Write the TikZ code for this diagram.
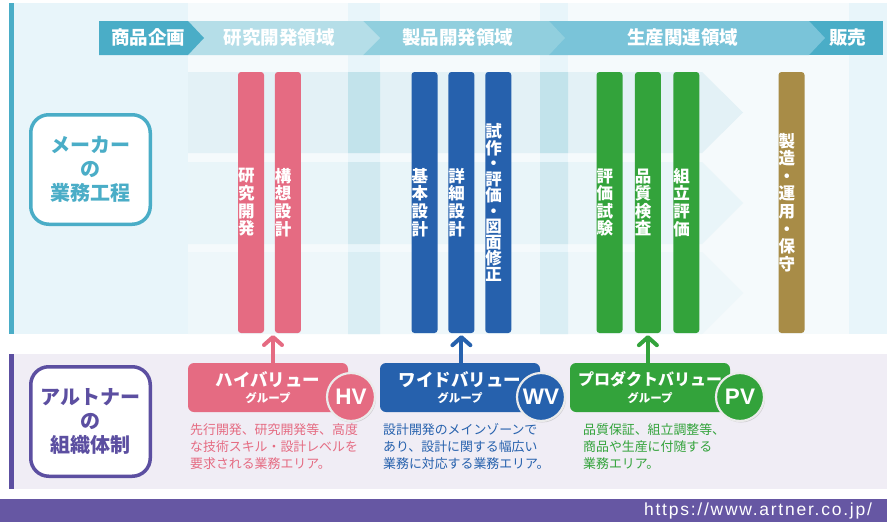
\documentclass[tikz,border=0pt]{standalone}
\usepackage{fontspec}
\setmainfont{Noto Sans CJK JP}
\newfontfamily\latin{Liberation Sans}
\newfontfamily\urlfont[LetterSpace=10]{Liberation Sans}
\usepackage{tikz}
\usetikzlibrary{positioning,shapes,arrows.meta,shadows}
\definecolor{teal}{rgb}{0.29,0.68,0.78}
\definecolor{violet}{rgb}{0.36,0.31,0.63}
\definecolor{footer}{rgb}{0.40,0.34,0.64}
\definecolor{pinkc}{rgb}{0.90,0.42,0.51}
\definecolor{bluec}{rgb}{0.15,0.38,0.68}
\definecolor{greenc}{rgb}{0.20,0.64,0.23}
\definecolor{brownc}{rgb}{0.66,0.55,0.28}
\definecolor{panel}{rgb}{0.91,0.96,0.98}
\definecolor{column}{rgb}{0.96,0.98,0.99}
\definecolor{lowpanel}{rgb}{0.94,0.93,0.96}
\definecolor{hdA}{rgb}{0.71,0.87,0.91}
\definecolor{hdB}{rgb}{0.57,0.81,0.87}
\definecolor{hdC}{rgb}{0.48,0.77,0.85}
\definecolor{rowA}{rgb}{0.89,0.945,0.965}
\definecolor{rowB}{rgb}{0.915,0.96,0.975}
\definecolor{rowC}{rgb}{0.935,0.97,0.98}
\definecolor{bandA}{rgb}{0.76,0.89,0.92}
\definecolor{bandB}{rgb}{0.82,0.915,0.94}
\definecolor{bandC}{rgb}{0.855,0.935,0.955}
\tikzstyle{hd}=[%
      text=white, inner sep=0pt, font=\bfseries\fontsize{18.5}{20}\selectfont
]
\tikzstyle{bar}=[%
      rectangle, rounded corners=3pt, text=white, inner sep=0pt,
      minimum height=261pt, text width=26pt, align=left,
      font=\bfseries\fontsize{16.5}{17.6}\selectfont
]
\tikzstyle{side}=[%
      rectangle, rounded corners=18pt, draw, line width=3.5pt, fill=white,
      minimum width=119.5pt, minimum height=109.5pt, align=center, inner sep=0pt,
      font=\bfseries\fontsize{20}{24}\selectfont
]
\tikzstyle{grp}=[%
      rectangle, rounded corners=6pt, text=white, inner sep=0pt,
      minimum width=160pt, minimum height=49pt, align=center,
      font=\bfseries\fontsize{17.5}{19}\selectfont
]
\tikzstyle{badge}=[%
      circle, draw=white!92!black, line width=2.2pt, minimum size=48pt, inner sep=0pt, text=white,
      font=\latin\bfseries\fontsize{22.5}{22.5}\selectfont,
      drop shadow={opacity=0.3, shadow xshift=1pt, shadow yshift=-1.5pt}
]
\tikzstyle{desc}=[%
      anchor=north west, inner sep=0pt, align=left,
      font=\fontsize{12.9}{16.7}\selectfont
]
\tikzstyle{up}=[%
      line width=4pt, -{Straight Barb[length=8pt, width=18pt, round]}
]

\begin{document}
\begin{tikzpicture}[x=1pt, y=-1pt]
    \useasboundingbox (0,0) rectangle (887,522);
    % upper panel
    \fill[panel] (9,3) rectangle (887,334);
    \fill[teal] (9,3) rectangle (14,334);
    \fill[column] (188,3) rectangle (849,334);
    \fill[panel] (348,3) rectangle (380,334);
    \fill[panel] (540,3) rectangle (568,334);
    \fill[rowA] (188,72) -- (702,72) -- (743,112.5) -- (702,153) -- (188,153) -- cycle;
    \fill[rowB] (188,162) -- (702,162) -- (743,203) -- (702,244) -- (188,244) -- cycle;
    \fill[rowC] (188,252) -- (702,252) -- (743,293) -- (702,334) -- (188,334) -- cycle;
    \fill[bandA] (348,72) rectangle (380,153) (540,72) rectangle (568,153);
    \fill[bandB] (348,162) rectangle (380,244) (540,162) rectangle (568,244);
    \fill[bandC] (348,252) rectangle (380,334) (540,252) rectangle (568,334);

    % header
    \fill[teal] (809,21) rectangle (883,55);
    \fill[hdC] (549,21) -- (809,21) -- (825,38) -- (809,55) -- (549,55) -- cycle;
    \fill[hdB] (363,21) -- (549,21) -- (565,38) -- (549,55) -- (363,55) -- cycle;
    \fill[hdA] (188,21) -- (363,21) -- (380,38) -- (363,55) -- (188,55) -- cycle;
    \fill[teal] (99,21) -- (188,21) -- (204,38) -- (188,55) -- (99,55) -- cycle;
    \node[hd] (kikaku)  at (148,37.5)   {商品企画};
    \node[hd] (kenryo)  at (279,37.5)   {研究開発領域};
    \node[hd] (seiryo)  at (457.5,37.5) {製品開発領域};
    \node[hd] (seisan)  at (682.5,37.5) {生産関連領域};
    \node[hd] (hanbai)  at (847.5,37.5) {販売};

    \node[side, draw=teal, text=teal] (maker) at (90.5,169.5) {メーカー\\の\\業務工程};

    % bars
    \node[bar, fill=pinkc]  (kenkyu)                          at (251,202.5)   {研\\究\\開\\発};
    \node[bar, fill=pinkc]  (koso)      [right=10.5pt of kenkyu]                {構\\想\\設\\計};
    \node[bar, fill=bluec]  (kihon)                           at (424.5,202.5) {基\\本\\設\\計};
    \node[bar, fill=bluec]  (shosai)    [right=10.5pt of kihon]                 {詳\\細\\設\\計};
    \node[bar, fill=bluec, font=\bfseries\fontsize{16.5}{15.4}\selectfont]
                            (shisaku)   [right=10.5pt of shosai]                {試\\作\\・\\評\\価\\・\\図\\面\\修\\正};
    \node[bar, fill=greenc] (hyoka)                           at (609.5,202.5) {評\\価\\試\\験};
    \node[bar, fill=greenc] (hinshitsu) [right=12pt of hyoka]                   {品\\質\\検\\査};
    \node[bar, fill=greenc] (kumitate)  [right=12pt of hinshitsu]               {組\\立\\評\\価};
    \node[bar, fill=brownc] (seizo)                           at (791.5,202.5) {製\\造\\・\\運\\用\\・\\保\\守};

    % lower panel
    \fill[lowpanel] (9,354) rectangle (887,489);
    \fill[violet] (9,354) rectangle (14,489);
    \node[side, draw=violet, text=violet] (artner) at (90.5,421.5) {アルトナー\\の\\組織体制};

    \node[grp, fill=pinkc]  (hv) at (268,387.5) {ハイバリュー\\[-3pt]{\fontsize{11.5}{12}\selectfont グループ}};
    \node[grp, fill=bluec]  (wv) at (460,387.5) {ワイドバリュー\\[-3pt]{\fontsize{11.5}{12}\selectfont グループ}};
    \node[grp, fill=greenc, font=\bfseries\fontsize{16}{19}\selectfont]
                            (pv) at (650,387.5) {プロダクトバリュー\\[-2pt]{\fontsize{11.5}{12}\selectfont グループ}};
    \node[badge, fill=pinkc]  (hvc) at (351,397) {HV};
    \node[badge, fill=bluec]  (wvc) at (541,397) {WV};
    \node[badge, fill=greenc] (pvc) at (740,397) {PV};

    \coordinate (hvtip) at (273,335);
    \draw[up, pinkc]  (hv.north -| hvtip) -- (hvtip);
    \draw[up, bluec]  (shosai.south |- wv.north) -- ([yshift=-2pt]shosai.south);
    \draw[up, greenc] (hinshitsu.south |- pv.north) -- ([yshift=-2pt]hinshitsu.south);

    \node[desc, text=pinkc]  (hvtext) at (190,423.5) {先行開発、研究開発等、高度\\な技術スキル・設計レベルを\\要求される業務エリア。};
    \node[desc, text=bluec]  (wvtext) at (383,423.5) {設計開発のメインゾーンで\\あり、設計に関する幅広い\\業務に対応する業務エリア。};
    \node[desc, text=greenc] (pvtext) at (583,423.5) {品質保証、組立調整等、\\商品や生産に付随する\\業務エリア。};

    % footer
    \fill[footer] (0,499) rectangle (887,522);
    \node[text=white, font=\urlfont\fontsize{17.5}{18}\selectfont] (url) at (758,511) {https://www.artner.co.jp/};
\end{tikzpicture}
\end{document}
